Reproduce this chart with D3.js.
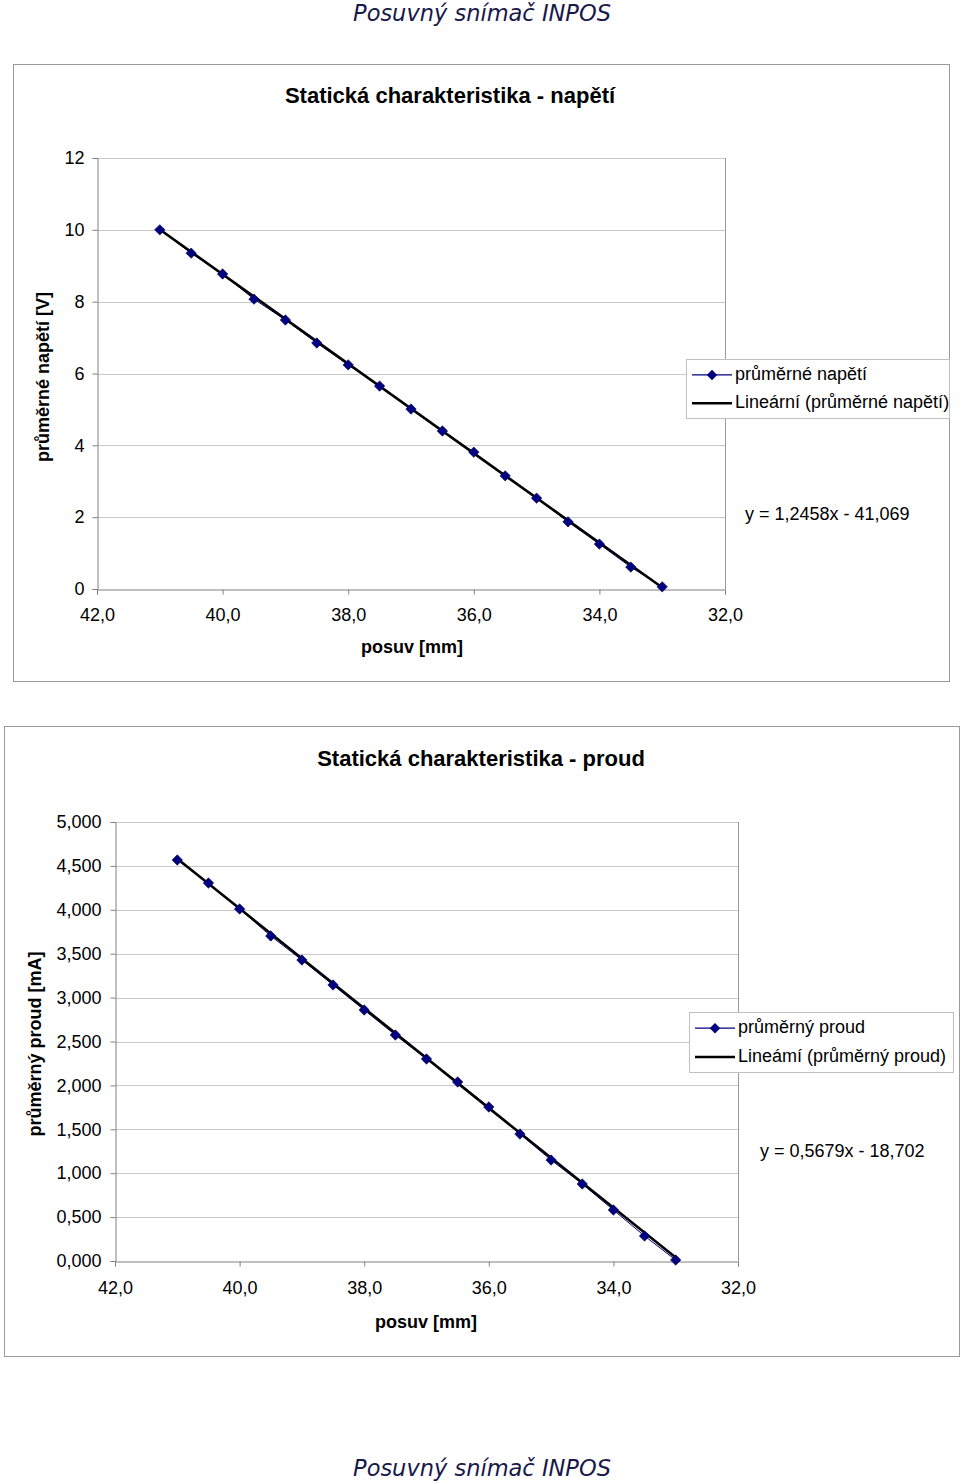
<!DOCTYPE html>
<html><head><meta charset="utf-8">
<script src="https://cdn.jsdelivr.net/npm/d3@7"></script>
<style>body{margin:0;background:#fff}svg{display:block}</style>
</head><body>
<svg id="c" width="960" height="1484"></svg>
<script>
// ---- data ----
const headerText = "Posuvný snímač INPOS";
const posuv = [41.0,40.5,40.0,39.5,39.0,38.5,38.0,37.5,37.0,36.5,36.0,35.5,35.0,34.5,34.0,33.5,33.0];
const napeti = [10.00,9.35,8.77,8.07,7.49,6.85,6.24,5.65,5.01,4.40,3.81,3.15,2.53,1.87,1.25,0.61,0.06];
const proud = [4.567,4.305,4.009,3.702,3.428,3.144,2.859,2.574,2.301,2.039,1.754,1.446,1.150,0.877,0.581,0.285,0.011];
const xTicks = [42,40,38,36,34,32];
const yTicks1 = [0,2,4,6,8,10,12];
const yTicks2 = [0,0.5,1,1.5,2,2.5,3,3.5,4,4.5,5];
const trend1 = {a:1.2458, b:-41.069};
const trend2 = {a:0.5679, b:-18.702};

const svg = d3.select("#c");
const F = "Liberation Sans, Arial, sans-serif";
const comma = (d,p)=>d.toFixed(p).replace(".",",");
const FS = 18;

// header/footer
[14,1469].forEach(y=>{
  svg.append("text").attr("x",482).attr("y",y).attr("text-anchor","middle")
    .attr("dominant-baseline","middle").attr("font-family","DejaVu Sans, Verdana, sans-serif")
    .attr("font-style","italic").attr("font-size",22.5).attr("fill","#18184a").text(headerText);
});

const sym = d3.symbol().type(d3.symbolSquare).size(54);

function chart(cfg){
  const g = svg.append("g");
  g.append("rect").attr("x",cfg.frame[0]+0.5).attr("y",cfg.frame[1]+0.5)
    .attr("width",cfg.frame[2]-cfg.frame[0]).attr("height",cfg.frame[3]-cfg.frame[1])
    .attr("fill","#fff").attr("stroke","#9a9a9a").attr("stroke-width",1);
  const x = d3.scaleLinear().domain([42,32]).range([cfg.pl,cfg.pr]);
  const y = d3.scaleLinear().domain([0,cfg.ymax]).range([cfg.pb,cfg.pt]);
  // gridlines
  g.selectAll(".gl").data(cfg.yTicks.filter(t=>t>0)).join("line")
    .attr("x1",cfg.pl).attr("x2",cfg.pr).attr("y1",d=>Math.round(y(d))+0.5).attr("y2",d=>Math.round(y(d))+0.5)
    .attr("stroke","#c8c8c8").attr("stroke-width",1);
  // right border
  g.append("line").attr("x1",cfg.pr+0.5).attr("x2",cfg.pr+0.5).attr("y1",cfg.pt).attr("y2",cfg.pb)
    .attr("stroke","#9a9a9a");
  // axes
  const ya = d3.axisLeft(y).tickValues(cfg.yTicks).tickSize(5).tickPadding(cfg.ypad).tickFormat(d=>cfg.yfmt(d));
  const yg = g.append("g").attr("transform",`translate(${cfg.pl+0.5},0)`).call(ya);
  const xa = d3.axisBottom(x).tickValues(xTicks).tickSize(5).tickPadding(cfg.xpad).tickFormat(d=>comma(d,1));
  const xg = g.append("g").attr("transform",`translate(0,${cfg.pb+0.5})`).call(xa);
  [yg,xg].forEach(a=>{
    a.select(".domain").attr("stroke","#808080");
    a.selectAll(".tick line").attr("stroke","#808080");
    a.selectAll("text").attr("font-family",F).attr("font-size",FS).attr("fill","#000");
  });
  // titles
  g.append("text").attr("x",cfg.titleX).attr("y",cfg.titleY).attr("text-anchor","middle")
    .attr("dominant-baseline","middle").attr("font-family",F).attr("font-weight","bold")
    .attr("font-size",22).text(cfg.title);
  g.append("text").attr("x",cfg.xtX).attr("y",cfg.xtY).attr("text-anchor","middle")
    .attr("dominant-baseline","middle").attr("font-family",F).attr("font-weight","bold")
    .attr("font-size",FS).text("posuv [mm]");
  g.append("text").attr("transform",`translate(${cfg.ytX},${cfg.ytY}) rotate(-90)`)
    .attr("text-anchor","middle").attr("dominant-baseline","middle").attr("font-family",F)
    .attr("font-weight","bold").attr("font-size",FS).text(cfg.ytitle);
  // data line
  const pts = posuv.map((p,i)=>[p,cfg.vals[i]]);
  g.append("path").datum(pts).attr("fill","none").attr("stroke","#000080").attr("stroke-width",1)
    .attr("d",d3.line().x(d=>x(d[0])).y(d=>y(d[1])));
  // trendline
  const ext = d3.extent(posuv);
  g.append("path").datum(ext.map(p=>[p,cfg.trend.a*p+cfg.trend.b])).attr("fill","none")
    .attr("stroke","#000").attr("stroke-width",2.6)
    .attr("d",d3.line().x(d=>x(d[0])).y(d=>y(d[1])));
  // markers
  g.selectAll(".m").data(pts).join("path").attr("d",sym)
    .attr("transform",d=>`translate(${x(d[0])},${y(d[1])}) rotate(45)`).attr("fill","#000080")
    .attr("stroke","#000050").attr("stroke-width",0.6);
  // legend
  const L = cfg.legend;
  g.append("rect").attr("x",L.x+0.5).attr("y",L.y+0.5).attr("width",L.w).attr("height",L.h)
    .attr("fill","#fff").attr("stroke","#c0c0c0");
  const r1 = L.y+L.h*0.27, r2 = L.y+L.h*0.75;
  g.append("line").attr("x1",L.x+6).attr("x2",L.x+46).attr("y1",r1).attr("y2",r1).attr("stroke","#000080").attr("stroke-width",1.2);
  g.append("path").attr("d",sym).attr("transform",`translate(${L.x+26},${r1}) rotate(45)`).attr("fill","#000080");
  g.append("line").attr("x1",L.x+6).attr("x2",L.x+46).attr("y1",r2).attr("y2",r2).attr("stroke","#000").attr("stroke-width",2.6);
  [[r1,cfg.lab1],[r2,cfg.lab2]].forEach(([ry,t])=>{
    g.append("text").attr("x",L.x+49).attr("y",ry).attr("dominant-baseline","middle")
      .attr("font-family",F).attr("font-size",FS).text(t);
  });
  // equation
  const eq = `y = ${comma(cfg.trend.a,4)}x - ${comma(-cfg.trend.b,3)}`;
  g.append("text").attr("x",cfg.eqX).attr("y",cfg.eqY).attr("dominant-baseline","middle")
    .attr("font-family",F).attr("font-size",FS).text(eq);
}

chart({frame:[13,64,949,681], pl:97, pr:725, pt:158, pb:589, ymax:12, yTicks:yTicks1,
  yfmt:d=>String(d), vals:napeti, trend:trend1, xpad:14, ypad:8,
  title:"Statická charakteristika - napětí", titleX:450, titleY:97,
  xtX:412, xtY:648, ytitle:"průměrné napětí [V]", ytX:44, ytY:377,
  legend:{x:686,y:359,w:263,h:59}, lab1:"průměrné napětí", lab2:"Lineární (průměrné napětí)",
  eqX:745, eqY:515});

chart({frame:[4,726,959,1356], pl:115, pr:738, pt:822, pb:1261, ymax:5, yTicks:yTicks2,
  yfmt:d=>comma(d,3), vals:proud, trend:trend2, xpad:15, ypad:9,
  title:"Statická charakteristika - proud", titleX:481, titleY:760,
  xtX:426, xtY:1323, ytitle:"průměrný proud [mA]", ytX:36, ytY:1044,
  legend:{x:689,y:1012,w:264,h:60}, lab1:"průměrný proud", lab2:"Lineámí (průměrný proud)",
  eqX:760, eqY:1152});
</script>
</body></html>
